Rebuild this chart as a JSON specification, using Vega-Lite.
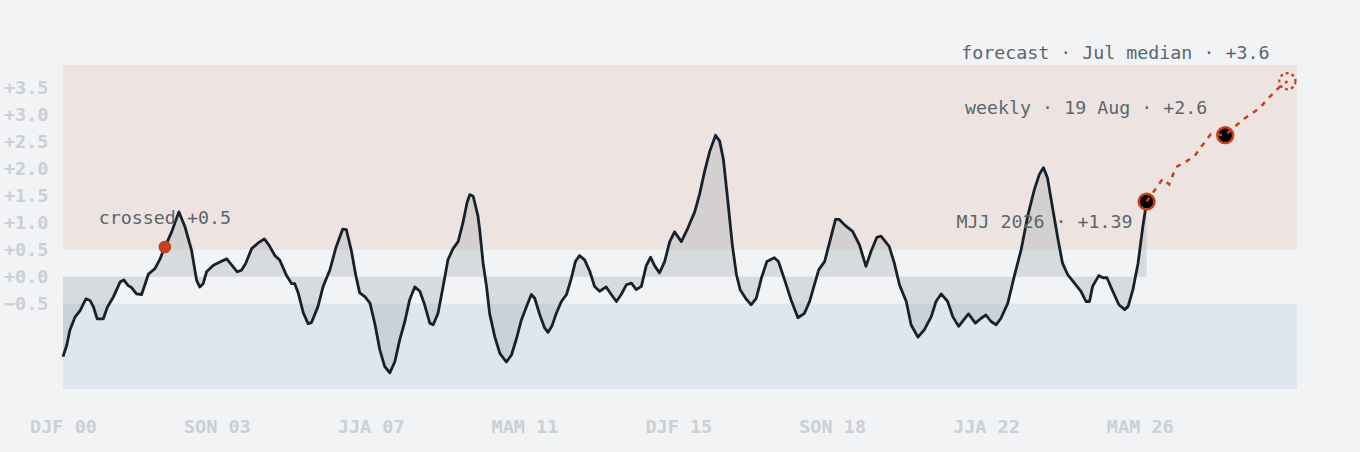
{
  "$schema": "https://vega.github.io/schema/vega-lite/v6.json",
  "autosize": "none",
  "width": 1234,
  "height": 324,
  "padding": {"left": 63, "top": 65, "right": 63, "bottom": 63},
  "background": "#f2f3f5",
  "config": {
    "view": {"stroke": null},
    "font": "DejaVu Sans Mono",
    "axis": {
      "grid": false,
      "domain": false,
      "ticks": false,
      "tickSize": 0,
      "labelFont": "DejaVu Sans Mono",
      "labelFontWeight": "bold",
      "labelFontSize": 18.5,
      "labelColor": "#c9d0d6",
      "title": null
    }
  },
  "datasets": {
    "obs": [
      {"t": 0, "v": -1.48}, {"t": 1.1, "v": -1.27}, {"t": 2, "v": -0.99}, {"t": 3.5, "v": -0.75},
      {"t": 5, "v": -0.63}, {"t": 6.7, "v": -0.41}, {"t": 7.9, "v": -0.44}, {"t": 8.9, "v": -0.56},
      {"t": 10, "v": -0.78}, {"t": 11.8, "v": -0.78}, {"t": 13, "v": -0.56}, {"t": 14.7, "v": -0.38},
      {"t": 16.7, "v": -0.1}, {"t": 17.8, "v": -0.06}, {"t": 19, "v": -0.16}, {"t": 20, "v": -0.2},
      {"t": 21.5, "v": -0.32}, {"t": 23, "v": -0.33}, {"t": 25, "v": 0.05}, {"t": 26.9, "v": 0.15},
      {"t": 28.4, "v": 0.33}, {"t": 29.8, "v": 0.55}, {"t": 31.8, "v": 0.83}, {"t": 33.9, "v": 1.2},
      {"t": 35.7, "v": 0.92}, {"t": 37.6, "v": 0.49}, {"t": 39.1, "v": -0.07}, {"t": 40, "v": -0.19},
      {"t": 41, "v": -0.13}, {"t": 42, "v": 0.09}, {"t": 44, "v": 0.21}, {"t": 45.9, "v": 0.27},
      {"t": 47.9, "v": 0.33}, {"t": 49.3, "v": 0.22}, {"t": 51, "v": 0.09}, {"t": 52.2, "v": 0.12},
      {"t": 53.4, "v": 0.24}, {"t": 55.2, "v": 0.52}, {"t": 57, "v": 0.62}, {"t": 58.9, "v": 0.7},
      {"t": 60.3, "v": 0.58}, {"t": 62, "v": 0.39}, {"t": 63.4, "v": 0.31}, {"t": 65.4, "v": 0.02},
      {"t": 66.9, "v": -0.13}, {"t": 67.8, "v": -0.13}, {"t": 68.8, "v": -0.3}, {"t": 70.3, "v": -0.67},
      {"t": 71.7, "v": -0.87}, {"t": 72.7, "v": -0.85}, {"t": 74.6, "v": -0.55}, {"t": 76.1, "v": -0.18},
      {"t": 78.1, "v": 0.13}, {"t": 79.8, "v": 0.53}, {"t": 81.8, "v": 0.88}, {"t": 82.9, "v": 0.87},
      {"t": 84.4, "v": 0.47}, {"t": 85.7, "v": 0.01}, {"t": 86.8, "v": -0.3}, {"t": 88.3, "v": -0.37},
      {"t": 89.8, "v": -0.49}, {"t": 91.2, "v": -0.86}, {"t": 92.7, "v": -1.36}, {"t": 94.1, "v": -1.66},
      {"t": 95.6, "v": -1.78}, {"t": 97.1, "v": -1.57}, {"t": 98.5, "v": -1.17}, {"t": 100, "v": -0.83},
      {"t": 101.4, "v": -0.43}, {"t": 102.9, "v": -0.19}, {"t": 104.4, "v": -0.27}, {"t": 105.8, "v": -0.52},
      {"t": 107.3, "v": -0.86}, {"t": 108.3, "v": -0.89}, {"t": 109.7, "v": -0.68}, {"t": 111.2, "v": -0.18},
      {"t": 112.6, "v": 0.31}, {"t": 114.1, "v": 0.52}, {"t": 115.6, "v": 0.65}, {"t": 117, "v": 1.0},
      {"t": 118.2, "v": 1.37}, {"t": 119, "v": 1.52}, {"t": 120, "v": 1.49}, {"t": 121.4, "v": 1.12},
      {"t": 121.9, "v": 0.87}, {"t": 122.9, "v": 0.25}, {"t": 123.9, "v": -0.18}, {"t": 124.8, "v": -0.68},
      {"t": 126.3, "v": -1.11}, {"t": 127.8, "v": -1.42}, {"t": 129.7, "v": -1.58}, {"t": 131.2, "v": -1.45},
      {"t": 132.7, "v": -1.14}, {"t": 134.1, "v": -0.8}, {"t": 135.6, "v": -0.55}, {"t": 137, "v": -0.33},
      {"t": 138, "v": -0.4}, {"t": 139.5, "v": -0.71}, {"t": 140.9, "v": -0.95}, {"t": 141.9, "v": -1.03},
      {"t": 143, "v": -0.92}, {"t": 144.3, "v": -0.68}, {"t": 145.8, "v": -0.46}, {"t": 147.3, "v": -0.33},
      {"t": 148.7, "v": -0.03}, {"t": 149.9, "v": 0.28}, {"t": 151.1, "v": 0.39}, {"t": 152.6, "v": 0.31},
      {"t": 154.1, "v": 0.1}, {"t": 155.5, "v": -0.18}, {"t": 157, "v": -0.27}, {"t": 158.9, "v": -0.19},
      {"t": 160.4, "v": -0.33}, {"t": 161.9, "v": -0.46}, {"t": 163.3, "v": -0.33}, {"t": 164.8, "v": -0.15},
      {"t": 166.3, "v": -0.12}, {"t": 167.7, "v": -0.24}, {"t": 169.2, "v": -0.18}, {"t": 170.6, "v": 0.2},
      {"t": 171.9, "v": 0.36}, {"t": 173.1, "v": 0.2}, {"t": 174.5, "v": 0.07}, {"t": 176, "v": 0.28},
      {"t": 177.5, "v": 0.65}, {"t": 178.9, "v": 0.83}, {"t": 180.9, "v": 0.65}, {"t": 182.8, "v": 0.9},
      {"t": 184.8, "v": 1.2}, {"t": 186.2, "v": 1.52}, {"t": 187.7, "v": 1.95}, {"t": 189.2, "v": 2.32},
      {"t": 190.9, "v": 2.62}, {"t": 192.1, "v": 2.51}, {"t": 193.2, "v": 2.17}, {"t": 194.5, "v": 1.4},
      {"t": 195.8, "v": 0.59}, {"t": 197, "v": 0.04}, {"t": 198.1, "v": -0.24}, {"t": 199.7, "v": -0.4},
      {"t": 201.3, "v": -0.52}, {"t": 202.8, "v": -0.4}, {"t": 204.3, "v": -0.03}, {"t": 205.9, "v": 0.28},
      {"t": 208.1, "v": 0.35}, {"t": 209.3, "v": 0.28}, {"t": 211.1, "v": -0.06}, {"t": 213, "v": -0.43},
      {"t": 215, "v": -0.76}, {"t": 216.9, "v": -0.68}, {"t": 218.4, "v": -0.46}, {"t": 219.8, "v": -0.15},
      {"t": 221.1, "v": 0.13}, {"t": 222.8, "v": 0.28}, {"t": 224.2, "v": 0.62}, {"t": 226, "v": 1.06},
      {"t": 227.1, "v": 1.06}, {"t": 228.8, "v": 0.95}, {"t": 231, "v": 0.84}, {"t": 233, "v": 0.59},
      {"t": 234.9, "v": 0.19}, {"t": 236.4, "v": 0.47}, {"t": 238.1, "v": 0.73}, {"t": 239.3, "v": 0.75},
      {"t": 241.7, "v": 0.56}, {"t": 243.2, "v": 0.25}, {"t": 244.7, "v": -0.15}, {"t": 246.7, "v": -0.46},
      {"t": 248.1, "v": -0.89}, {"t": 250.1, "v": -1.12}, {"t": 252, "v": -0.98}, {"t": 254, "v": -0.74},
      {"t": 255.4, "v": -0.46}, {"t": 256.9, "v": -0.32}, {"t": 258.8, "v": -0.46}, {"t": 260.3, "v": -0.74},
      {"t": 262, "v": -0.92}, {"t": 263.5, "v": -0.8}, {"t": 264.9, "v": -0.69}, {"t": 266.9, "v": -0.86},
      {"t": 268.6, "v": -0.77}, {"t": 270, "v": -0.71}, {"t": 271.5, "v": -0.83}, {"t": 273, "v": -0.89},
      {"t": 274.4, "v": -0.77}, {"t": 276.4, "v": -0.49}, {"t": 278.3, "v": 0.01}, {"t": 280.3, "v": 0.5},
      {"t": 282.2, "v": 1.12}, {"t": 284.2, "v": 1.62}, {"t": 285.6, "v": 1.89}, {"t": 286.8, "v": 2.02},
      {"t": 288, "v": 1.83}, {"t": 289.5, "v": 1.27}, {"t": 291, "v": 0.72}, {"t": 292.4, "v": 0.25},
      {"t": 293.9, "v": 0.04}, {"t": 295.9, "v": -0.12}, {"t": 297.8, "v": -0.27}, {"t": 299.3, "v": -0.46},
      {"t": 300.3, "v": -0.46}, {"t": 301.2, "v": -0.18}, {"t": 303, "v": 0.02}, {"t": 304.2, "v": -0.02},
      {"t": 305.4, "v": -0.02}, {"t": 307.1, "v": -0.27}, {"t": 308.9, "v": -0.52}, {"t": 310.6, "v": -0.61},
      {"t": 311.6, "v": -0.55}, {"t": 313, "v": -0.24}, {"t": 314.5, "v": 0.25}, {"t": 315.9, "v": 0.93},
      {"t": 317, "v": 1.39}
    ],
    "forecast": [
      {"t": 317, "v": 1.39}, {"t": 321.7, "v": 1.81}, {"t": 323.6, "v": 1.71}, {"t": 325.6, "v": 2.03},
      {"t": 328.5, "v": 2.13}, {"t": 331, "v": 2.23}, {"t": 332.9, "v": 2.4}, {"t": 335.8, "v": 2.64},
      {"t": 340, "v": 2.62}, {"t": 345, "v": 2.9}, {"t": 350, "v": 3.12}, {"t": 353, "v": 3.33},
      {"t": 356, "v": 3.52}, {"t": 358.2, "v": 3.62}
    ],
    "bands": [
      {"lo": 0.5, "hi": 3.92, "zone": "warm"},
      {"lo": -2.08, "hi": -0.5, "zone": "cool"}
    ]
  },
  "layer": [
    {
      "data": {"name": "bands"},
      "mark": {"type": "rect"},
      "encoding": {
        "x": {
          "datum": 0,
          "type": "quantitative",
          "scale": {"domain": [0, 361], "nice": false, "zero": false},
          "axis": {
            "values": [0, 45, 90, 135, 180, 225, 270, 315],
            "labelExpr": "['DJF 00','SON 03','JJA 07','MAM 11','DJF 15','SON 18','JJA 22','MAM 26'][round(datum.value / 45)]",
            "labelFlush": false,
            "labelOverlap": false,
            "labelPadding": 28
          }
        },
        "x2": {"datum": 361},
        "y": {
          "field": "lo",
          "type": "quantitative",
          "scale": {"domain": [-2.08, 3.92], "nice": false, "zero": false},
          "axis": {
            "values": [-0.5, 0, 0.5, 1, 1.5, 2, 2.5, 3, 3.5],
            "format": "+.1f",
            "labelOverlap": false,
            "labelPadding": 15
          }
        },
        "y2": {"field": "hi"},
        "color": {
          "field": "zone",
          "type": "nominal",
          "scale": {"domain": ["warm", "cool"], "range": ["#ede4e1", "#dfe6ed"]},
          "legend": null
        }
      }
    },
    {
      "data": {"name": "obs"},
      "mark": {"type": "area", "color": "#8c949c", "opacity": 0.25},
      "encoding": {
        "x": {"field": "t", "type": "quantitative"},
        "y": {"field": "v", "type": "quantitative"},
        "y2": {"datum": 0}
      }
    },
    {
      "data": {"name": "obs"},
      "mark": {"type": "line", "color": "#17212b", "strokeWidth": 2.8, "strokeJoin": "round"},
      "encoding": {
        "x": {"field": "t", "type": "quantitative"},
        "y": {"field": "v", "type": "quantitative"}
      }
    },
    {
      "data": {"values": [{"t": 317, "v": 1.39}, {"t": 340, "v": 2.62}]},
      "mark": {"type": "point", "filled": true, "fill": "#000000", "stroke": "#c4411f", "strokeWidth": 2.5, "size": 250, "opacity": 1},
      "encoding": {
        "x": {"field": "t", "type": "quantitative"},
        "y": {"field": "v", "type": "quantitative"}
      }
    },
    {
      "data": {"name": "forecast"},
      "mark": {"type": "line", "color": "#c4411f", "strokeWidth": 2.5, "strokeDash": [5, 6]},
      "encoding": {
        "x": {"field": "t", "type": "quantitative"},
        "y": {"field": "v", "type": "quantitative"}
      }
    },
    {
      "data": {"values": [{"t": 358.2, "v": 3.62}]},
      "mark": {"type": "point", "filled": false, "stroke": "#c4411f", "strokeWidth": 2.2, "strokeDash": [3, 3], "size": 260, "opacity": 1},
      "encoding": {
        "x": {"field": "t", "type": "quantitative"},
        "y": {"field": "v", "type": "quantitative"}
      }
    },
    {
      "data": {"values": [{"t": 29.8, "v": 0.55}]},
      "mark": {"type": "point", "filled": true, "color": "#c4411f", "size": 160, "opacity": 1},
      "encoding": {
        "x": {"field": "t", "type": "quantitative"},
        "y": {"field": "v", "type": "quantitative"}
      }
    },
    {
      "data": {"values": [{"t": 29.8, "v": 0.55, "label": "crossed +0.5"}]},
      "mark": {"type": "text", "align": "center", "baseline": "middle", "dy": -28, "font": "DejaVu Sans Mono", "fontSize": 18.3, "color": "#5a6670"},
      "encoding": {
        "x": {"field": "t", "type": "quantitative"},
        "y": {"field": "v", "type": "quantitative"},
        "text": {"field": "label"}
      }
    },
    {
      "data": {"values": [{"t": 317, "v": 1.39, "label": "MJJ 2026 · +1.39"}]},
      "mark": {"type": "text", "align": "right", "baseline": "middle", "dx": -14, "dy": 21, "font": "DejaVu Sans Mono", "fontSize": 18.3, "color": "#5a6670"},
      "encoding": {
        "x": {"field": "t", "type": "quantitative"},
        "y": {"field": "v", "type": "quantitative"},
        "text": {"field": "label"}
      }
    },
    {
      "data": {"values": [{"t": 340, "v": 2.62, "label": "weekly · 19 Aug · +2.6"}]},
      "mark": {"type": "text", "align": "right", "baseline": "middle", "dx": -18, "dy": -26, "font": "DejaVu Sans Mono", "fontSize": 18.3, "color": "#5a6670"},
      "encoding": {
        "x": {"field": "t", "type": "quantitative"},
        "y": {"field": "v", "type": "quantitative"},
        "text": {"field": "label"}
      }
    },
    {
      "data": {"values": [{"t": 358.2, "v": 3.62, "label": "forecast · Jul median · +3.6"}]},
      "mark": {"type": "text", "align": "right", "baseline": "middle", "dx": -18, "dy": -27, "font": "DejaVu Sans Mono", "fontSize": 18.3, "color": "#5a6670"},
      "encoding": {
        "x": {"field": "t", "type": "quantitative"},
        "y": {"field": "v", "type": "quantitative"},
        "text": {"field": "label"}
      }
    }
  ]
}
